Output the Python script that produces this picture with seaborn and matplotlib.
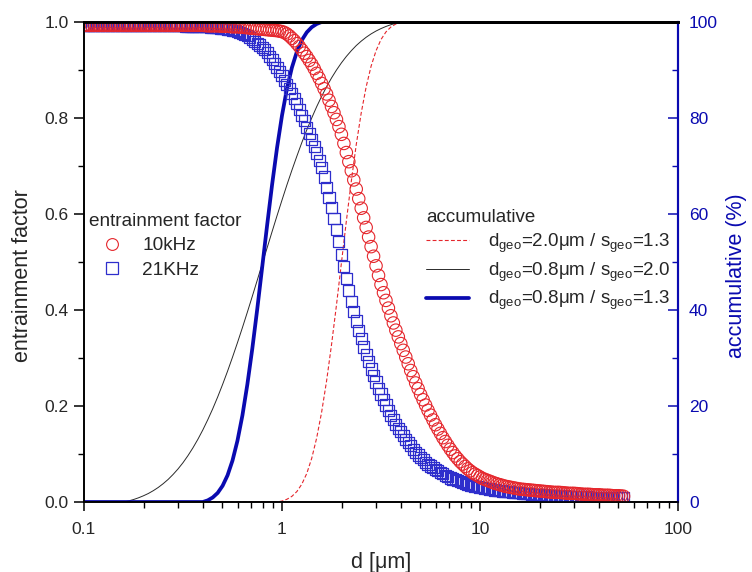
import matplotlib
matplotlib.use("Agg")
import matplotlib.pyplot as plt
import numpy as np
import pandas as pd
import seaborn as sns
from matplotlib.lines import Line2D
from matplotlib.ticker import FixedLocator, FixedFormatter, NullFormatter

# ---------------- data ----------------
# particle diameters of the entrainment-factor points [um]
d_points = [
    0.1000, 0.1029, 0.1059, 0.1090, 0.1122, 0.1155, 0.1189, 0.1223, 0.1259, 0.1296,
    0.1334, 0.1372, 0.1413, 0.1454, 0.1496, 0.1540, 0.1585, 0.1631, 0.1679, 0.1728,
    0.1778, 0.1830, 0.1884, 0.1939, 0.1995, 0.2054, 0.2113, 0.2175, 0.2239, 0.2304,
    0.2371, 0.2441, 0.2512, 0.2585, 0.2661, 0.2738, 0.2818, 0.2901, 0.2985, 0.3073,
    0.3162, 0.3255, 0.3350, 0.3447, 0.3548, 0.3652, 0.3758, 0.3868, 0.3981, 0.4097,
    0.4217, 0.4340, 0.4467, 0.4597, 0.4732, 0.4870, 0.5012, 0.5158, 0.5309, 0.5464,
    0.5623, 0.5788, 0.5957, 0.6131, 0.6310, 0.6494, 0.6683, 0.6879, 0.7079, 0.7286,
    0.7499, 0.7718, 0.7943, 0.8175, 0.8414, 0.8660, 0.8913, 0.9173, 0.9441, 0.9716,
    1.000, 1.029, 1.059, 1.090, 1.122, 1.155, 1.189, 1.223, 1.259, 1.296,
    1.334, 1.372, 1.413, 1.454, 1.496, 1.540, 1.585, 1.631, 1.679, 1.728,
    1.778, 1.830, 1.884, 1.939, 1.995, 2.054, 2.113, 2.175, 2.239, 2.304,
    2.371, 2.441, 2.512, 2.585, 2.661, 2.738, 2.818, 2.901, 2.985, 3.073,
    3.162, 3.255, 3.350, 3.447, 3.548, 3.652, 3.758, 3.868, 3.981, 4.097,
    4.217, 4.340, 4.467, 4.597, 4.732, 4.870, 5.012, 5.158, 5.309, 5.464,
    5.623, 5.788, 5.957, 6.131, 6.310, 6.494, 6.683, 6.879, 7.079, 7.286,
    7.499, 7.718, 7.943, 8.175, 8.414, 8.660, 8.913, 9.173, 9.441, 9.716,
    10.00, 10.29, 10.59, 10.90, 11.22, 11.55, 11.89, 12.23, 12.59, 12.96,
    13.34, 13.72, 14.13, 14.54, 14.96, 15.40, 15.85, 16.31, 16.79, 17.28,
    17.78, 18.30, 18.84, 19.39, 19.95, 20.54, 21.13, 21.75, 22.39, 23.04,
    23.71, 24.41, 25.12, 25.85, 26.61, 27.38, 28.18, 29.01, 29.85, 30.73,
    31.62, 32.55, 33.50, 34.47, 35.48, 36.52, 37.58, 38.68, 39.81, 40.97,
    42.17, 43.40, 44.67, 45.97, 47.32, 48.70, 50.12, 51.58, 53.09]

ef_10khz = [0.993] * 49 + [
    0.9925, 0.992, 0.992, 0.992, 0.992, 0.992, 0.9915, 0.991, 0.991, 0.991,
    0.9905, 0.990, 0.990, 0.990, 0.9895, 0.989, 0.9885, 0.988, 0.9875, 0.987,
    0.9865, 0.986, 0.9855, 0.985, 0.9845, 0.984, 0.9835, 0.983, 0.9825, 0.982,
    0.981, 0.980, 0.978, 0.975, 0.971, 0.966, 0.961, 0.955, 0.949, 0.942,
    0.935, 0.928, 0.920, 0.912, 0.903, 0.893, 0.883, 0.872, 0.861, 0.850,
    0.837, 0.824, 0.811, 0.797, 0.782, 0.766, 0.747, 0.728, 0.709, 0.690,
    0.671, 0.652, 0.632, 0.612, 0.592, 0.572, 0.552, 0.532, 0.512, 0.492,
    0.472, 0.453, 0.436, 0.420, 0.404, 0.388, 0.373, 0.358, 0.344, 0.330,
    0.316, 0.302, 0.288, 0.274, 0.261, 0.248, 0.236, 0.224, 0.213, 0.202,
    0.191, 0.181, 0.171, 0.161, 0.152, 0.143, 0.134, 0.126, 0.118, 0.110,
    0.103, 0.096, 0.090, 0.084, 0.079, 0.074, 0.069, 0.065, 0.061, 0.058,
    0.055, 0.052, 0.049, 0.047, 0.045, 0.043, 0.041, 0.039, 0.0375, 0.036,
    0.0345, 0.033, 0.032, 0.031, 0.030, 0.029, 0.028, 0.027, 0.0265, 0.026,
    0.0255, 0.025, 0.0245, 0.024, 0.0235, 0.023, 0.0225, 0.022, 0.0215, 0.021,
    0.0205, 0.020, 0.020, 0.020, 0.0195, 0.019, 0.0185, 0.018, 0.018, 0.018,
    0.0175, 0.017, 0.0165, 0.016, 0.016, 0.016, 0.0155, 0.015, 0.015, 0.015,
    0.0145, 0.014, 0.014, 0.014, 0.0135, 0.013, 0.013, 0.013, 0.0125, 0.012]

ef_21khz = [0.992] * 41 + [0.9915, 0.991, 0.991, 0.991, 0.991, 0.9905, 0.990, 0.990] + [
    0.990, 0.990, 0.9895, 0.989, 0.9885, 0.988, 0.9875, 0.987, 0.986, 0.985,
    0.984, 0.983, 0.9815, 0.980, 0.978, 0.976, 0.9735, 0.971, 0.968, 0.964,
    0.960, 0.956, 0.952, 0.947, 0.942, 0.936, 0.929, 0.922, 0.914, 0.906,
    0.897, 0.888, 0.879, 0.870, 0.861, 0.851, 0.841, 0.830, 0.818, 0.806,
    0.794, 0.781, 0.768, 0.755, 0.741, 0.727, 0.712, 0.696, 0.677, 0.656,
    0.635, 0.614, 0.591, 0.568, 0.542, 0.515, 0.490, 0.465, 0.441, 0.418,
    0.397, 0.377, 0.358, 0.340, 0.323, 0.307, 0.292, 0.277, 0.263, 0.250,
    0.237, 0.225, 0.213, 0.202, 0.191, 0.181, 0.171, 0.162, 0.154, 0.146,
    0.138, 0.131, 0.124, 0.117, 0.110, 0.104, 0.098, 0.093, 0.088, 0.083,
    0.079, 0.075, 0.071, 0.068, 0.065, 0.062, 0.059, 0.056, 0.053, 0.050,
    0.048, 0.046, 0.044, 0.042, 0.040, 0.038, 0.0365, 0.035, 0.034, 0.033,
    0.032, 0.031, 0.030, 0.029, 0.028, 0.027, 0.026, 0.025, 0.0245, 0.024,
    0.023, 0.022, 0.0215, 0.021, 0.0205, 0.020, 0.0195, 0.019, 0.0185, 0.018,
    0.0175, 0.017, 0.0165, 0.016, 0.0155, 0.015, 0.0148, 0.0145, 0.0143, 0.014,
    0.0138, 0.0135, 0.0133, 0.013, 0.0128, 0.0125, 0.0123, 0.012, 0.0118, 0.0115,
    0.0113, 0.011, 0.011, 0.011, 0.0108, 0.0105, 0.0103, 0.010, 0.010, 0.010,
    0.0098, 0.0095, 0.0095, 0.0095, 0.0093, 0.009, 0.009, 0.009, 0.009, 0.009]

# diameters of the accumulative curves [um]
d_curve = [0.1, 0.1059, 0.1122, 0.1189, 0.1259, 0.1334, 0.1413, 0.1496, 0.1585, 0.1679,
           0.1778, 0.1884, 0.1995, 0.2113, 0.2239, 0.2371, 0.2512, 0.2661, 0.2818, 0.2985,
           0.3162, 0.3350, 0.3548, 0.3758, 0.3981, 0.4217, 0.4467, 0.4732, 0.5012, 0.5309,
           0.5623, 0.5957, 0.6310, 0.6683, 0.7079, 0.7499, 0.7943, 0.8414, 0.8913, 0.9441,
           1.0, 1.059, 1.122, 1.189, 1.259, 1.334, 1.413, 1.496, 1.585, 1.679,
           1.778, 1.884, 1.995, 2.113, 2.239, 2.371, 2.512, 2.661, 2.818, 2.985,
           3.162, 3.350, 3.548, 3.758, 3.981, 4.217, 4.467, 4.732, 5.012, 5.309,
           5.623, 5.957, 6.310, 6.683, 7.079, 7.499, 7.943, 8.414, 8.913, 9.441,
           10.0, 10.59, 11.22, 11.89, 12.59, 13.34, 14.13, 14.96, 15.85, 16.79,
           17.78, 18.84, 19.95, 21.13, 22.39, 23.71, 25.12, 26.61, 28.18, 29.85,
           31.62, 33.50, 35.48, 37.58, 39.81, 42.17, 44.67, 47.32, 50.12, 53.09]

acc_d20_s13 = [0.0] * 40 + [
    0.2, 0.57, 1.18, 2.18, 3.71, 5.95, 9.11, 13.31, 18.69, 25.19,
    32.71, 41.03, 49.74, 58.49, 66.84, 74.44, 81.04, 86.49, 90.79, 94.01,
    96.35, 97.93, 98.96, 99.59] + [100.0] * 46

acc_d08_s20 = [0.0] * 9 + [
    0.22, 0.51, 0.87, 1.29, 1.77, 2.36, 3.03, 3.82, 4.71, 5.74,
    6.89, 8.19, 9.66, 11.27, 13.05, 15.00, 17.13, 19.41, 21.87, 24.49,
    27.25, 30.16, 33.19, 36.32, 39.54, 42.85, 46.20, 49.60, 52.97, 56.34,
    59.66, 62.90, 66.07, 69.12, 72.06, 74.87, 77.52, 80.01, 82.34, 84.50,
    86.51, 88.33, 89.99, 91.48, 92.82, 94.02, 95.09, 96.01, 96.82, 97.52,
    98.12, 98.63, 99.07, 99.44, 99.74] + [100.0] * 46

acc_d08_s13 = [0.0] * 25 + [
    0.34, 0.94, 1.89, 3.38, 5.56, 8.63, 12.77, 18.03, 24.48, 31.94,
    40.20, 48.94, 57.71, 66.13, 73.82, 80.53, 86.09, 90.50, 93.82, 96.21,
    97.85, 98.92, 99.59] + [100.0] * 62

x_ticks = [0.1, 1, 10, 100]
x_ticklabels = ["0.1", "1", "10", "100"]
left_ticks = [0.0, 0.2, 0.4, 0.6, 0.8, 1.0]
left_ticklabels = ["0.0", "0.2", "0.4", "0.6", "0.8", "1.0"]
right_ticks = [0, 20, 40, 60, 80, 100]
right_ticklabels = ["0", "20", "40", "60", "80", "100"]

ef_labels = ["10kHz", "21KHz"]
acc_labels = [r"d$_{\mathrm{geo}}$=2.0μm / s$_{\mathrm{geo}}$=1.3",
              r"d$_{\mathrm{geo}}$=0.8μm / s$_{\mathrm{geo}}$=2.0",
              r"d$_{\mathrm{geo}}$=0.8μm / s$_{\mathrm{geo}}$=1.3"]

# ---------------- style ----------------
sns.set_style("ticks")
plt.rcParams['font.family'] = ['Liberation Sans', 'DejaVu Sans']
plt.rcParams['mathtext.fontset'] = 'custom'
plt.rcParams['mathtext.rm'] = 'Liberation Sans'
plt.rcParams['mathtext.it'] = 'Liberation Sans:italic'
plt.rcParams['mathtext.bf'] = 'Liberation Sans:bold'

RED = '#e5262c'
BLUE_SQ = '#2e2ecc'
DBLUE = '#0a0ab0'
BLACK = '#2a2a2a'

df_pts = pd.DataFrame({'d': d_points, 'ef10': ef_10khz, 'ef21': ef_21khz})
df_acc = pd.DataFrame({'d': d_curve, 'a1': acc_d20_s13, 'a2': acc_d08_s20,
                       'a3': acc_d08_s13})

fig = plt.figure(figsize=(7.52, 5.72), dpi=100)
ax = fig.add_axes([84 / 752, 1 - 502 / 572, 594 / 752, 480 / 572])
ax2 = ax.twinx()

# accumulative curves on right axis
sns.lineplot(data=df_acc, x='d', y='a1', ax=ax2, color=RED, linewidth=0.8,
             linestyle=(0, (3.5, 2.0)), estimator=None, legend=False)
sns.lineplot(data=df_acc, x='d', y='a2', ax=ax2, color=BLACK, linewidth=0.7,
             estimator=None, legend=False)
sns.lineplot(data=df_acc, x='d', y='a3', ax=ax2, color=DBLUE, linewidth=2.7,
             estimator=None, legend=False)

# entrainment factor markers on left axis
sns.scatterplot(data=df_pts, x='d', y='ef21', ax=ax, marker='s', s=64,
                linewidth=0.9, legend=False)
ax.collections[-1].set_facecolor('none')
ax.collections[-1].set_edgecolor(BLUE_SQ)
sns.scatterplot(data=df_pts, x='d', y='ef10', ax=ax, marker='o', s=80,
                linewidth=0.8, legend=False)
ax.collections[-1].set_facecolor('none')
ax.collections[-1].set_edgecolor(RED)

ax.set_zorder(ax2.get_zorder() + 1)
ax.patch.set_visible(False)

for a in (ax, ax2):
    a.set_xscale('log')
    a.set_xlim(0.1, 100)
ax.set_ylim(0, 1.0)
ax2.set_ylim(0, 100)

# x axis
ax.xaxis.set_major_locator(FixedLocator(x_ticks))
ax.xaxis.set_major_formatter(FixedFormatter(x_ticklabels))
minor = [m * 10.0 ** e for e in (-1, 0, 1) for m in range(2, 10)]
ax.xaxis.set_minor_locator(FixedLocator(minor))
ax.xaxis.set_minor_formatter(NullFormatter())
ax.tick_params(axis='x', which='major', direction='out', length=6.5, width=1.1,
               labelsize=12.5, pad=8, color='black')
ax.tick_params(axis='x', which='minor', direction='out', length=4.5, width=1.0,
               color='black')

# left y axis
ax.yaxis.set_major_locator(FixedLocator(left_ticks))
ax.yaxis.set_major_formatter(FixedFormatter(left_ticklabels))
ax.yaxis.set_minor_locator(FixedLocator([0.1, 0.3, 0.5, 0.7, 0.9]))
ax.tick_params(axis='y', which='major', direction='out', length=7, width=1.1,
               labelsize=12.5, pad=4, color='black', left=True, right=False)
ax.tick_params(axis='y', which='minor', direction='out', length=4, width=1.0,
               color='black', left=True, right=False)

# right y axis
ax2.yaxis.set_major_locator(FixedLocator(right_ticks))
ax2.yaxis.set_major_formatter(FixedFormatter(right_ticklabels))
ax2.yaxis.set_minor_locator(FixedLocator([10, 30, 50, 70, 90]))
ax2.tick_params(axis='y', which='major', direction='in', length=7, width=1.1,
                labelsize=12.5, pad=8, color=DBLUE, labelcolor=DBLUE)
ax2.tick_params(axis='y', which='minor', direction='in', length=4, width=1.0,
                color=DBLUE)
ax2.tick_params(axis='x', which='both', bottom=False, top=False,
                labelbottom=False)

for a in (ax, ax2):
    a.spines['left'].set_linewidth(1.2)
    a.spines['bottom'].set_linewidth(1.2)
    a.spines['top'].set_linewidth(2.0)
    a.spines['top'].set_color('black')
    a.spines['right'].set_linewidth(1.5)
    a.spines['right'].set_color(DBLUE)
    a.spines['left'].set_color('black')
    a.spines['bottom'].set_color('black')
    for s in a.spines.values():
        s.set_visible(True)

ax.set_xlabel("d [μm]", fontsize=15.5)
ax.set_ylabel("entrainment factor", fontsize=15.5)
ax2.set_ylabel("accumulative (%)", fontsize=15.5, color=DBLUE)
ax2.set_xlabel("")
ax.xaxis.set_label_coords(0.5, (502 - 552) / 480)
ax.yaxis.set_label_coords((33 - 84) / 594, (502 - 276) / 480)
ax2.yaxis.set_label_coords((726 - 84) / 594, (502 - 276) / 480)

# legends
h_ef = [Line2D([], [], ls='none', marker='o', ms=8.5, mfc='none', mec=RED, mew=0.8),
        Line2D([], [], ls='none', marker='s', ms=8, mfc='none', mec=BLUE_SQ, mew=0.9)]
leg1 = ax.legend(h_ef, ef_labels, title="entrainment factor", loc='upper left',
                 bbox_to_anchor=(89 / 752, 1 - 213 / 572),
                 bbox_transform=fig.transFigure, frameon=False, fontsize=13.7,
                 title_fontsize=13.7, handlelength=2.4, handletextpad=0.4,
                 labelspacing=0.37, borderpad=0, borderaxespad=0,
                 alignment='left')
ax.add_artist(leg1)

h_acc = [Line2D([], [], color=RED, lw=0.8, ls=(0, (3.5, 2.0))),
         Line2D([], [], color=BLACK, lw=0.7),
         Line2D([], [], color=DBLUE, lw=2.7)]
leg2 = ax.legend(h_acc, acc_labels, title="accumulative", loc='upper left',
                 bbox_to_anchor=(426 / 752, 1 - 209 / 572),
                 bbox_transform=fig.transFigure, frameon=False, fontsize=13.5,
                 title_fontsize=13.5, handlelength=2.3, handletextpad=1.0,
                 labelspacing=0.3, borderpad=0, borderaxespad=0,
                 alignment='left')

fig.savefig("out.png", dpi=100)
